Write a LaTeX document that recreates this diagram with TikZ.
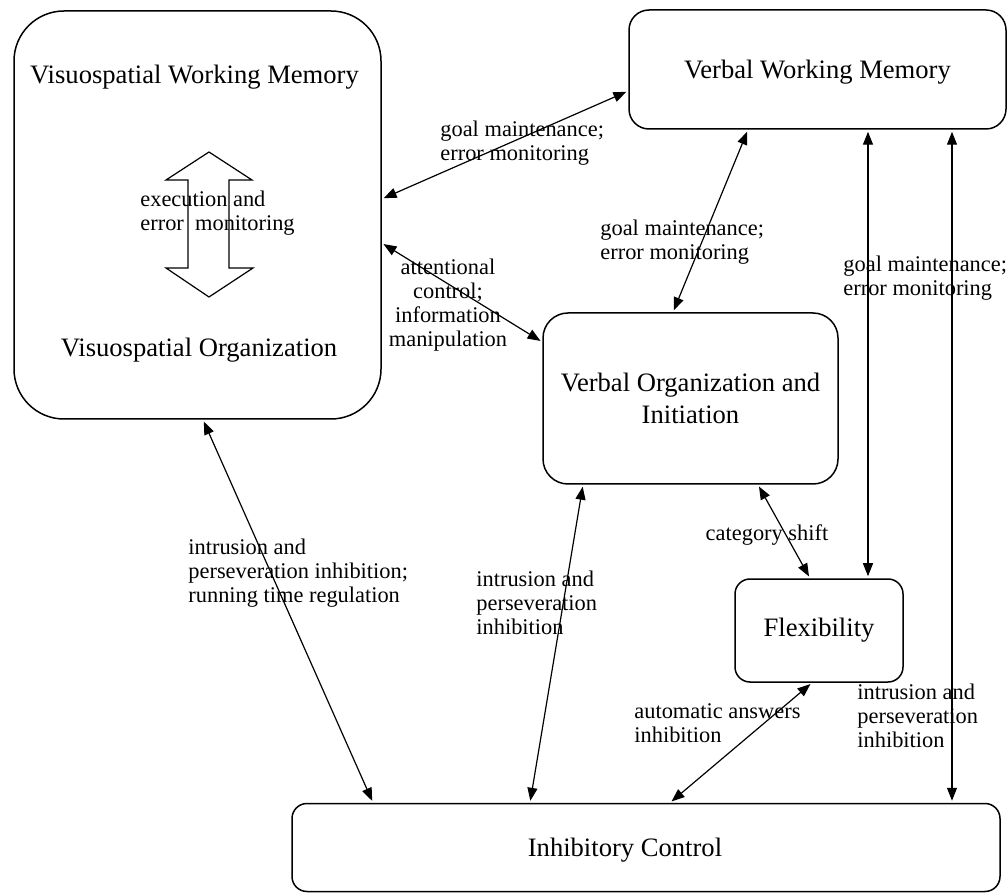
\documentclass[tikz,border=0pt]{standalone}
\usepackage{fontspec}
\setmainfont{Liberation Serif}
\usetikzlibrary{arrows.meta}

\begin{document}
\begin{tikzpicture}[x=0.5pt,y=-0.5pt,
        box/.style={draw,line width=0.75pt,inner sep=0pt,align=center,font=\fontsize{13.3}{16}\selectfont},
        link/.style={{Triangle[length=6.5pt,width=5pt]}-{Triangle[length=6.5pt,width=5pt]},line width=0.6pt,shorten <=1pt,shorten >=1pt},
        lbl/.style={inner sep=0pt,align=left,anchor=west,font=\fontsize{11.2}{12}\selectfont},
        big/.style={inner sep=0pt,font=\fontsize{13.3}{16}\selectfont}]
        \useasboundingbox (0,0) rectangle (1008,893);
        % boxes
        \node [box,rounded corners=25pt,minimum width=183.5pt,minimum height=204pt] (vs) at (197.5,215) {};
        \node [box,rounded corners=10pt,minimum width=188.5pt,minimum height=59.5pt,text depth=0pt] (vwm) at (817.5,69.5) {Verbal Working Memory};
        \node [box,rounded corners=12.5pt,minimum width=147.5pt,minimum height=85.5pt] (vo) at (690.5,398.5) {Verbal Organization and\\Initiation};
        \node [box,rounded corners=7.5pt,minimum width=84pt,minimum height=51.5pt] (flex) at (819,630.5) {Flexibility};
        \node [box,rounded corners=7.5pt,minimum width=354pt,minimum height=44pt] (inhib) at (646,847.5) {};
        % texts
        \node [big] (vswm) at (194.5,77) {Visuospatial Working Memory};
        \node [big] (vsorg) at (199,350) {Visuospatial Organization};
        \node [big] (ictext) at (625,850) {Inhibitory Control};
        % hollow arrow
        \draw [line width=0.6pt] (209,152) -- (252,180) -- (229,180) -- (229,268) -- (253,268) -- (209,297) -- (166,268) -- (188,268) -- (188,180) -- (166,180) -- cycle;
        \node [lbl] (exec) at (140,213) {execution and\\error\ \ monitoring};
        % arrows
        \draw [link] (vs.east |- 0,199) -- (vwm.west |- 0,91);
        \draw [link] (vs.east |- 0,243) -- (vo.west |- 0,342);
        \draw [link] (vwm.south -| 748,0) -- (vo.north -| 673,0);
        \draw [link] (vwm.south -| 868,0) -- (flex.north -| 868,0);
        \draw [link] (vwm.south -| 952,0) -- (inhib.north -| 952,0);
        \draw [link] (vs.south -| 203,0) -- (inhib.north -| 373,0);
        \draw [link] (vo.south -| 583,0) -- (inhib.north -| 530,0);
        \draw [link] (vo.south -| 758,0) -- (flex.north -| 810,0);
        \draw [link] (flex.south -| 812,0) -- (inhib.north -| 670,0);
        % labels
        \node [lbl] (l1) at (440,143.5) {goal maintenance;\\error monitoring};
        \node [lbl] (l2) at (600,242) {goal maintenance;\\error monitoring};
        \node [lbl] (l3) at (843,278) {goal maintenance;\\error monitoring};
        \node [lbl,align=center,anchor=center] (l4) at (448,305) {attentional\\control;\\information\\manipulation};
        \node [lbl] (l5) at (188,573) {intrusion and\\perseveration inhibition;\\running time regulation};
        \node [lbl] (l6) at (476,603) {intrusion and\\perseveration\\inhibition};
        \node [lbl,anchor=center] (l7) at (767,535) {category shift};
        \node [lbl] (l8) at (634,723) {automatic answers\\inhibition};
        \node [lbl] (l9) at (857,716) {intrusion and\\perseveration\\inhibition};
\end{tikzpicture}
\end{document}
